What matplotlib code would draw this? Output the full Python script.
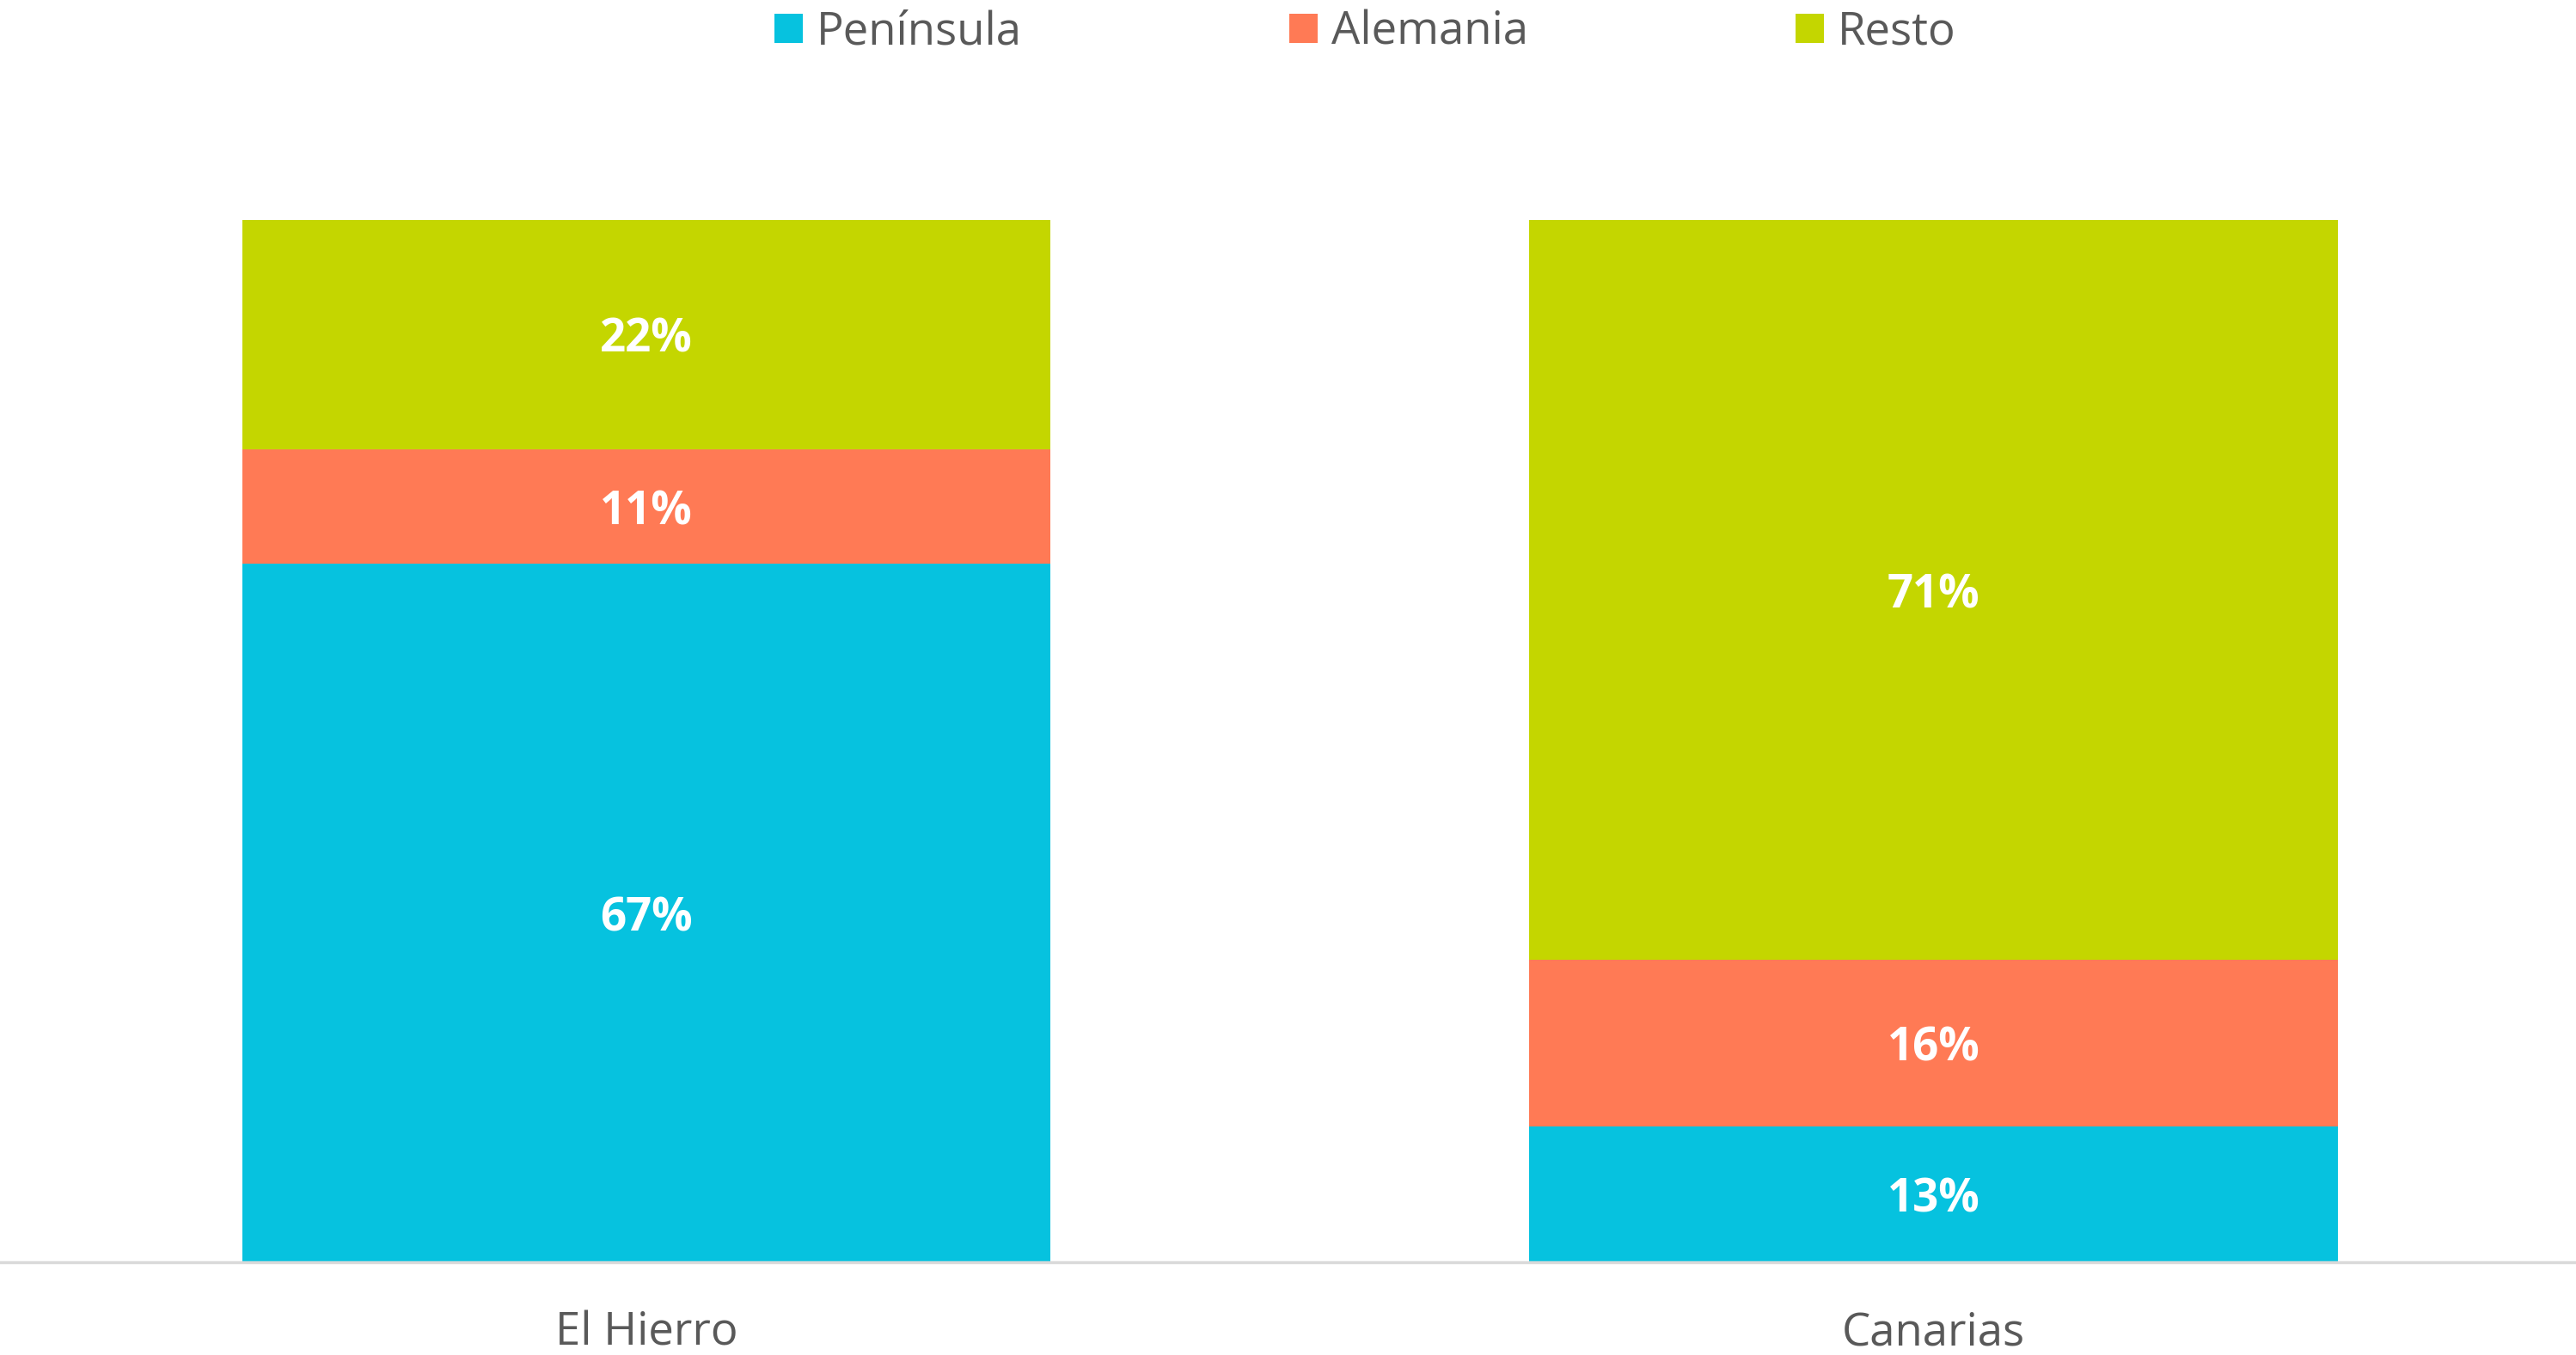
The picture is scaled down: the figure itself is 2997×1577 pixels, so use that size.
import matplotlib
matplotlib.use("Agg")
import matplotlib.pyplot as plt
from matplotlib.patches import Patch

categories = ["El Hierro", "Canarias"]
series_names = ["Península", "Alemania", "Resto"]
peninsula = [67, 13]
alemania = [11, 16]
resto = [22, 71]
colors = ["#06C2DF", "#FF7A55", "#C4D600"]

plt.rcParams['font.family'] = ['Open Sans', 'DejaVu Sans']

fig = plt.figure(figsize=(29.97, 15.77), dpi=100)
ax = fig.add_axes([0.0, (1577 - 1469) / 1577, 1.0, (1469 - 256) / 1577])

x = list(range(len(categories)))
bottom = [0, 0]
width = 0.628
for name, vals, c in zip(series_names, [peninsula, alemania, resto], colors):
    ax.bar(x, vals, width, bottom=bottom, color=c, label=name, linewidth=0)
    for xi, v, b in zip(x, vals, bottom):
        ax.text(xi, b + v / 2, f"{v}%", ha="center", va="center_baseline",
                color="white", fontsize=38, fontweight="bold")
    bottom = [b + v for b, v in zip(bottom, vals)]

ax.set_xlim(-0.502, 1.499)
ax.set_ylim(0, 100)
ax.set_yticks([])
ax.set_xticks(x)
ax.set_xticklabels(categories, fontsize=38, color="#595959")
ax.tick_params(axis="x", length=0, pad=40)
for s in ["top", "right", "left"]:
    ax.spines[s].set_visible(False)
ax.spines["bottom"].set_color("#D9D9D9")
ax.spines["bottom"].set_linewidth(2.5)

handles = [Patch(facecolor=c, label=n) for n, c in zip(series_names, colors)]
leg = fig.legend(handles=handles, loc="center", bbox_to_anchor=(0.530, 0.976), ncol=3,
                 frameon=False, fontsize=38, handlelength=0.62, handleheight=0.62,
                 handletextpad=0.3, columnspacing=5.9, labelcolor="#595959")

fig.savefig("out.png", dpi=100)
